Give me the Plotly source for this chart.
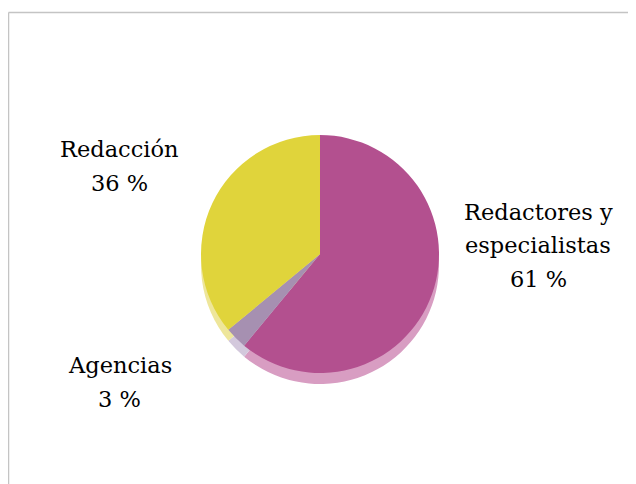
import plotly.graph_objects as go

# Data
labels = ["Redactores y especialistas", "Agencias", "Redacción"]
label_lines = [["Redactores y", "especialistas"], ["Agencias"], ["Redacción"]]
values = [61, 3, 36]
colors = ["#B3508F", "#A690B1", "#E0D43B"]
shadow_colors = ["#D89DC2", "#D3C8DC", "#EEE69A"]

OFF = 8                      # page body margin
W, H = 636 - OFF, 484 - OFF
cx, cy, r = 320 - OFF, 254 - OFF, 119   # pixel centre/radius of the pie (top-left origin)
shadow_dy = 11
LINE = 33.5

def dom(cx, cy, r):
    return dict(x=[(cx - r) / W, (cx + r) / W],
                y=[(H - cy - r) / H, (H - cy + r) / H])

fig = go.Figure()
fig.add_trace(go.Pie(labels=labels, values=values, sort=False, direction="clockwise",
                     rotation=0, marker=dict(colors=shadow_colors, line=dict(width=0)),
                     textinfo="none", hoverinfo="skip", showlegend=False,
                     domain=dom(cx, cy + shadow_dy, r)))
fig.add_trace(go.Pie(labels=labels, values=values, sort=False, direction="clockwise",
                     rotation=0, marker=dict(colors=colors, line=dict(width=0)),
                     textinfo="none", showlegend=False,
                     domain=dom(cx, cy, r)))

# label block centres (page pixels, top-left origin)
label_pos = [(538, 245), (120, 382), (120, 166)]
for lines, v, (x, y) in zip(label_lines, values, label_pos):
    all_lines = lines + [f"{v} %"]
    n = len(all_lines)
    for i, t in enumerate(all_lines):
        yy = y + (i - (n - 1) / 2) * LINE
        fig.add_annotation(text=t, x=(x - OFF) / W, y=1 - (yy - OFF) / H,
                           xref="paper", yref="paper",
                           showarrow=False, xanchor="center", yanchor="middle", align="center",
                           font=dict(family="DejaVu Serif", size=22.5, color="#000000"))

# chart border (top and left visible)
ty = 1 - (12.5 - OFF) / H
lx = 0.5 / W
fig.add_shape(type="line", xref="paper", yref="paper", x0=lx, x1=1.01, y0=ty, y1=ty,
              line=dict(color="#C4C4C4", width=1.5))
fig.add_shape(type="line", xref="paper", yref="paper", x0=lx, x1=lx, y0=-0.01, y1=ty,
              line=dict(color="#C4C4C4", width=1.5))

fig.update_layout(width=W, height=H, margin=dict(l=0, r=0, t=0, b=0),
                  paper_bgcolor="white", plot_bgcolor="white",
                  font=dict(family="DejaVu Serif"))
fig.write_html("out.html")
